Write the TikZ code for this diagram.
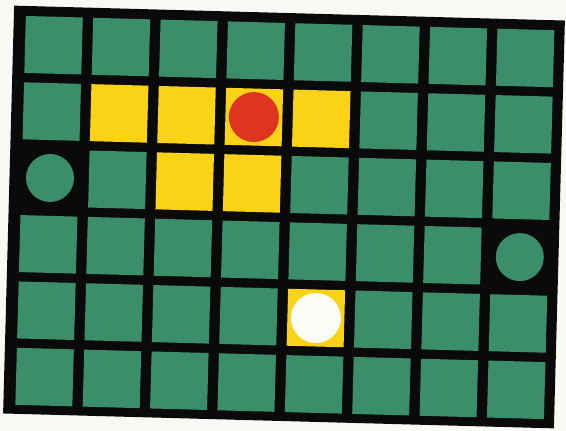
\documentclass[tikz,border=0pt]{standalone}
\definecolor{bggreen}{RGB}{58,142,106}
\definecolor{bgyellow}{RGB}{250,210,22}
\definecolor{bgred}{RGB}{222,52,32}
\definecolor{paper}{RGB}{248,248,244}
\definecolor{boardblack}{RGB}{10,10,10}
\definecolor{pearl}{RGB}{252,252,246}
\tikzset{
  greencell/.style={fill=bggreen, draw=none},
  yellowcell/.style={fill=bgyellow, draw=none},
  blackcell/.style={fill=boardblack, draw=none},
  redpiece/.style={circle, fill=bgred, draw=none, minimum size=50pt, inner sep=0pt},
  whitepiece/.style={circle, fill=pearl, draw=none, minimum size=50pt, inner sep=0pt},
  greenpiece/.style={circle, fill=bggreen, draw=none, minimum size=48pt, inner sep=0pt}
}
\begin{document}
\begin{tikzpicture}[x=1pt,y=-1pt]
\fill[paper] (0,0) rectangle (566,431);
\useasboundingbox (0,0) rectangle (566,431);
\begin{scope}[shift={(284,217)}, rotate=-1.55]
  \fill[boardblack] (-275.5,-204) rectangle (275.5,204);
  \foreach \j in {0,...,5}{
    \foreach \i in {0,...,7}{
      \pgfmathsetmacro{\cx}{-263.5+67.4*\i}
      \pgfmathsetmacro{\cy}{-194+66.4*\j}
      \def\kind{greencell}
      \ifnum\j=1 \ifnum\i>0 \ifnum\i<5 \def\kind{yellowcell}\fi\fi\fi
      \ifnum\j=2 \ifnum\i>1 \ifnum\i<4 \def\kind{yellowcell}\fi\fi\fi
      \ifnum\j=4 \ifnum\i=4 \def\kind{yellowcell}\fi\fi
      \ifnum\j=2 \ifnum\i=0 \def\kind{blackcell}\fi\fi
      \ifnum\j=3 \ifnum\i=7 \def\kind{blackcell}\fi\fi
      \path[\kind] (\cx,\cy) rectangle ++(57,57);
    }
  }
  \node[redpiece] (red) at ({-263.5+67.4*3+28.5},{-194+66.4*1+28.5}) {};
  \node[whitepiece] (white) at ({-263.5+67.4*4+28.5},{-194+66.4*4+28.5}) {};
  \node[greenpiece] (greenL) at ({-263.5+28.5},{-194+66.4*2+28.5}) {};
  \node[greenpiece] (greenR) at ({-263.5+67.4*7+28.5},{-194+66.4*3+28.5}) {};
\end{scope}
\end{tikzpicture}
\end{document}
